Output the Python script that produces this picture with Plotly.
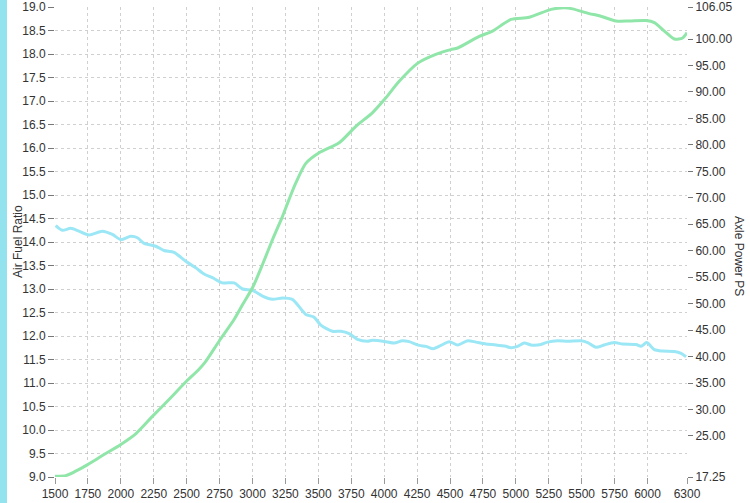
import plotly.graph_objects as go

# Air Fuel Ratio (left axis)
afr_rpm = [1505, 1556, 1619, 1682, 1758, 1860, 1936, 2000, 2075, 2126, 2177, 2265, 2328, 2404, 2493,
           2569, 2632, 2696, 2772, 2860, 2924, 3000, 3076, 3152, 3228, 3303, 3405, 3468, 3519, 3607,
           3671, 3734, 3797, 3873, 3911, 4013, 4076, 4139, 4190, 4266, 4317, 4373, 4431, 4494, 4558,
           4634, 4697, 4773, 4849, 4925, 4963, 5013, 5064, 5115, 5191, 5241, 5317, 5393, 5495, 5546,
           5609, 5672, 5748, 5811, 5913, 5951, 5994, 6052, 6115, 6204, 6255, 6293]
afr_val = [14.35, 14.25, 14.29, 14.23, 14.15, 14.23, 14.16, 14.05, 14.12, 14.09, 13.97, 13.91, 13.82, 13.78, 13.59,
           13.45, 13.32, 13.24, 13.13, 13.13, 13.00, 12.97, 12.85, 12.78, 12.81, 12.78, 12.46, 12.40, 12.23, 12.10,
           12.10, 12.05, 11.93, 11.89, 11.91, 11.88, 11.85, 11.90, 11.88, 11.80, 11.78, 11.73, 11.80, 11.88, 11.81,
           11.90, 11.87, 11.83, 11.81, 11.78, 11.75, 11.78, 11.85, 11.81, 11.82, 11.87, 11.90, 11.89, 11.90, 11.86,
           11.76, 11.81, 11.86, 11.83, 11.82, 11.78, 11.86, 11.71, 11.68, 11.67, 11.63, 11.56]

# Axle Power PS (right axis)
pwr_rpm = [1500, 1581, 1657, 1745, 1860, 2000, 2113, 2240, 2366, 2493, 2594, 2645, 2746, 2860, 2924,
           3000, 3076, 3152, 3228, 3278, 3329, 3405, 3506, 3658, 3785, 3912, 4013, 4114, 4253, 4392,
           4506, 4558, 4722, 4823, 4963, 5102, 5267, 5368, 5431, 5558, 5634, 5761, 5862, 5989, 6052,
           6128, 6204, 6267, 6300]
pwr_val = [17.4, 17.5, 18.35, 19.55, 21.3, 23.4, 25.4, 28.7, 31.9, 35.2, 37.6, 39.1, 42.9, 47.0, 49.8,
           53.0, 57.4, 62.1, 66.5, 69.7, 72.8, 76.5, 78.5, 80.4, 83.5, 86.1, 88.9, 92.0, 95.4, 97.1,
           98.0, 98.3, 100.5, 101.5, 103.7, 104.1, 105.6, 105.9, 105.7, 104.8, 104.4, 103.4, 103.4, 103.5, 103.1,
           101.5, 100.0, 100.2, 101.2]

x_ticks = [1500, 1750, 2000, 2250, 2500, 2750, 3000, 3250, 3500, 3750, 4000, 4250, 4500, 4750,
           5000, 5250, 5500, 5750, 6000, 6300]
right_ticks = [17.25, 25, 30, 35, 40, 45, 50, 55, 60, 65, 70, 75, 80, 85, 90, 95, 100, 106.05]
right_text = ["%.2f" % v for v in right_ticks]

W, H = 750, 503
L, R, T, B = 55, 63, 7, 26
pw, ph = W - L - R, H - T - B

grid_col = "rgba(150,150,150,0.45)"
font_col = "#333333"

fig = go.Figure()
fig.add_trace(go.Scatter(x=pwr_rpm, y=pwr_val, yaxis="y2", mode="lines",
                         line=dict(color="#8fe6a8", width=3, shape="spline", smoothing=0.7),
                         name="Axle Power PS", hoverinfo="skip"))
fig.add_trace(go.Scatter(x=afr_rpm, y=afr_val, mode="lines",
                         line=dict(color="#9be7f5", width=3, shape="spline", smoothing=0.7),
                         name="Air Fuel Ratio", hoverinfo="skip"))

fig.update_layout(
    width=W, height=H,
    margin=dict(l=L, r=R, t=T, b=B, pad=0, autoexpand=False),
    paper_bgcolor="white", plot_bgcolor="white",
    showlegend=False,
    font=dict(family="Liberation Sans, Arial, sans-serif", size=12, color=font_col),
    xaxis=dict(range=[1500, 6300], tickvals=x_ticks, ticktext=[str(v) for v in x_ticks],
               showgrid=True, gridcolor=grid_col, griddash="dot", gridwidth=1, automargin=False,
               ticks="outside", ticklen=6, tickcolor="#999999", showline=False, zeroline=False),
    yaxis=dict(range=[9, 19], dtick=0.5, tick0=9, tickformat=".1f", automargin=False,
               showgrid=True, gridcolor=grid_col, griddash="dot", gridwidth=1,
               ticks="outside", ticklen=6, tickcolor="#777777", showline=False, zeroline=False),
    yaxis2=dict(range=[17.25, 106.05], overlaying="y", side="right", automargin=False,
                tickvals=right_ticks, ticktext=right_text, showgrid=False,
                ticks="outside", ticklen=5, tickcolor="#777777", showline=False, zeroline=False),
)

# left decorative strip
fig.add_shape(type="rect", xref="paper", yref="paper",
              x0=(0 - L) / pw, x1=(7 - L) / pw, y0=-B / ph, y1=1 + T / ph,
              fillcolor="#93e3ef", line=dict(width=0), layer="below")

fig.add_annotation(text="Air Fuel Ratio", xref="paper", yref="paper",
                   x=(18 - L) / pw, y=0.5, textangle=-90, showarrow=False,
                   xanchor="center", yanchor="middle", font=dict(size=12, color=font_col))
fig.add_annotation(text="Axle Power PS", xref="paper", yref="paper",
                   x=(739 - L) / pw, y=0.47, textangle=90, showarrow=False,
                   xanchor="center", yanchor="middle", font=dict(size=12, color=font_col))

fig.write_html("out.html", config={"displayModeBar": False, "staticPlot": True},
               post_script="document.body.style.margin='0';document.body.style.padding='0';document.body.style.overflow='hidden';")
